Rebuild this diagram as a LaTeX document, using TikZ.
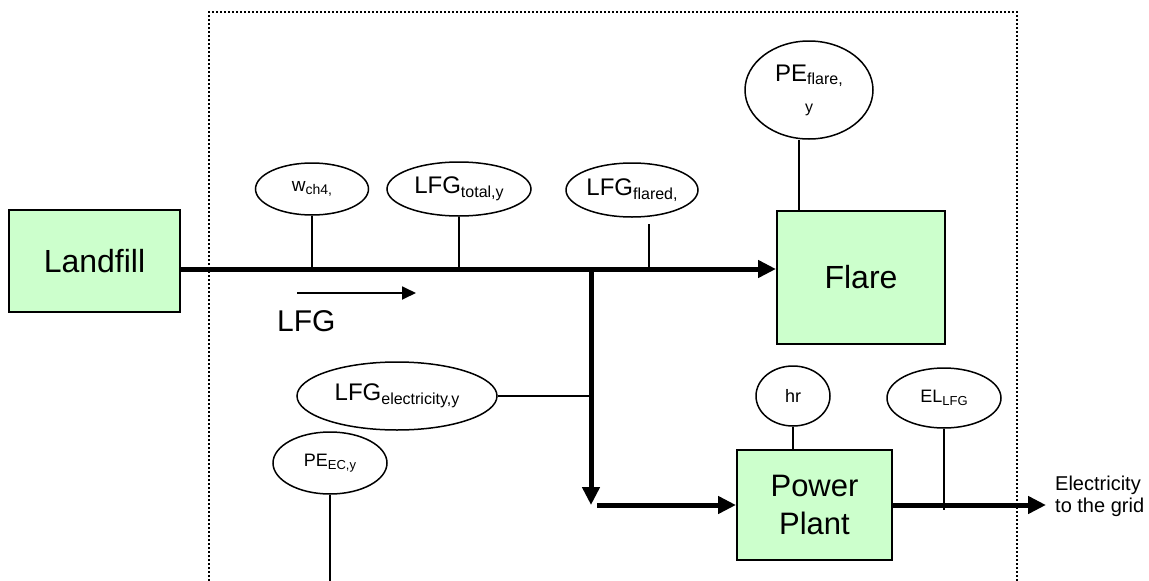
\documentclass[tikz,border=0pt]{standalone}
\usepackage{fontspec}
\setmainfont{Liberation Sans}
\usetikzlibrary{shapes.geometric,arrows.meta}
\definecolor{boxgreen}{HTML}{CCFFCC}
\newcommand\fsz[1]{\fontsize{#1}{#1}\selectfont}
\newcommand\lsub[2]{{\fsz{#1}\raisebox{-0.22em}{#2}}}
\tikzset{
  procbox/.style={draw=black,line width=2pt,fill=boxgreen,rectangle,inner sep=0pt,align=center},
  param/.style={draw=black,line width=1.5pt,ellipse,inner sep=0pt,align=center},
  tick/.style={draw=black,line width=1.5pt},
  flow/.style={draw=black,line width=5pt,-{Triangle[length=18pt,width=17pt]}},
  thinflow/.style={draw=black,line width=1.8pt,-{Triangle[length=14pt,width=13pt]}},
  dotbox/.style={draw=black,line width=2pt,dash pattern=on 2pt off 2pt},
}
\begin{document}
\begin{tikzpicture}[x=1pt,y=-1pt]
\useasboundingbox (0,0) rectangle (1149,581);
% dotted boundary
\draw[dotbox] (209,581) -- (209,12) -- (1017,12) -- (1017,581);
% process boxes
\node[procbox,minimum width=171pt,minimum height=102pt,font=\fsz{32}] (landfill) at (94.5,261) {Landfill};
\node[procbox,minimum width=168pt,minimum height=133pt,font=\fsz{32}] (flare) at (861,277.5) {Flare};
\node[procbox,minimum width=155pt,minimum height=110pt,font=\fsz{31}] (pp) at (814.5,505) {Power\\[7pt]Plant};
% parameter ellipses
\node[param,minimum width=113pt,minimum height=52pt] (wch) at (312,189) {\fsz{19}w\lsub{14}{ch4,}};
\node[param,minimum width=144pt,minimum height=54pt] (tot) at (459,189) {\fsz{24}LFG\lsub{16}{total,y}};
\node[param,minimum width=132pt,minimum height=54pt] (fla) at (632,190) {\fsz{24}LFG\lsub{16}{flared,}};
\node[param,minimum width=128pt,minimum height=98pt] (pef) at (809,90) {\fsz{24}PE\lsub{16}{flare,}\\[16pt]\fsz{16}y};
\node[param,minimum width=200pt,minimum height=68pt] (ele) at (397,396) {\fsz{24}LFG\lsub{16}{electricity,y}};
\node[param,minimum width=114pt,minimum height=62pt] (pec) at (330,463) {\fsz{18}PE\lsub{13}{EC,y}};
\node[param,minimum width=74pt,minimum height=60pt] (hr) at (793,396) {\fsz{18}hr};
\node[param,minimum width=114pt,minimum height=60pt] (ell) at (944,398) {\fsz{18}EL\lsub{13}{LFG}};
% coordinates
\coordinate (jn) at (591,269);
\coordinate (bend) at (591,505);
\coordinate (flatick) at (649,224);
\coordinate (gridend) at (1046,505);
\coordinate (lfgA) at (297,293);
\coordinate (lfgB) at (416,293);
\coordinate (pecend) at (328,581);
% main flow
\draw[flow] (landfill.east |- jn) -- (flare.west |- jn);
\draw[flow] (jn) -- (bend);
\draw[flow] ([xshift=6pt]bend) -- (pp.west);
\draw[flow] (pp.east) -- (gridend);
\draw[thinflow] (lfgA) -- (lfgB);
\node[anchor=west,inner sep=0pt,font=\fsz{30}] (lfgtxt) at (277,321) {LFG};
\node[anchor=west,inner sep=0pt,align=left,font=\fsz{20}] (gridtxt) at (1055,496) {Electricity\\[2pt]to the grid};
% measurement ticks
\draw[tick] (wch.south) -- (wch.south |- jn);
\draw[tick] (tot.south) -- (tot.south |- jn);
\draw[tick] (flatick) -- (flatick |- jn);
\draw[tick] ([xshift=-10pt]pef.south) -- ([xshift=-10pt]pef.south |- flare.north);
\draw[tick] (ele.east) -- (ele.east -| jn);
\draw[tick] (hr.south) -- (hr.south |- pp.north);
\draw[tick] (ell.south) -- ([yshift=-5pt]ell.south |- gridend);
\draw[tick] (pec.south) -- (pec.south |- pecend);
\end{tikzpicture}
\end{document}
